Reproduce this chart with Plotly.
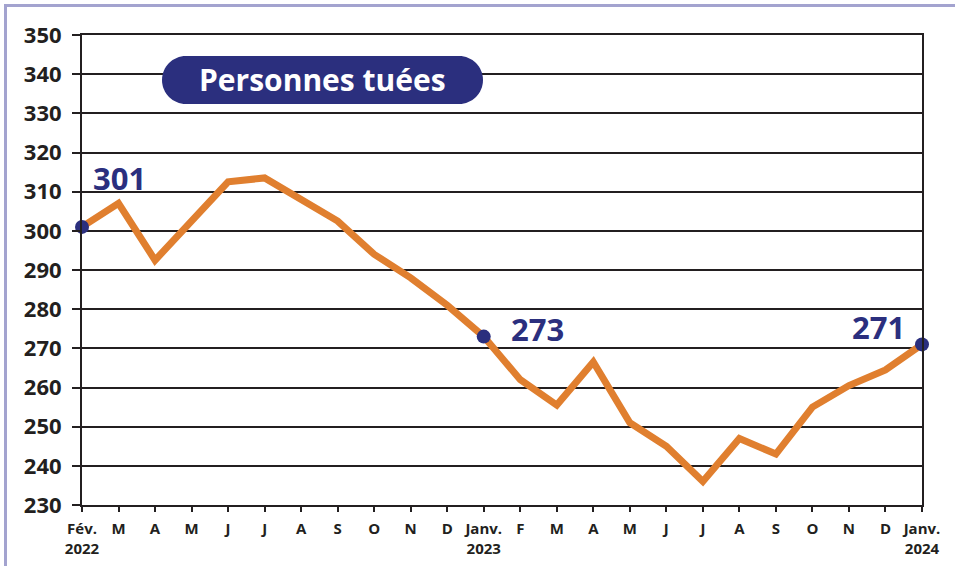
import plotly.graph_objects as go

months = ["Fév.<br>2022", "M", "A", "M", "J", "J", "A", "S", "O", "N", "D",
          "Janv.<br>2023", "F", "M", "A", "M", "J", "J", "A", "S", "O", "N", "D",
          "Janv.<br>2024"]
values = [301, 307, 292.5, 302.5, 312.5, 313.5, 308, 302.5, 294, 288, 281,
          273, 262, 255.5, 266.5, 251, 245, 236, 247, 243, 255, 260.5, 264.5, 271]
highlight_idx = [0, 11, 23]
highlight_labels = ["301", "273", "271"]
y_ticks = list(range(230, 351, 10))
title_text = "Personnes tuées"

ORANGE = "#E07F2F"
NAVY = "#2B2F7E"
DARK = "#231F20"
FONT = "Open Sans"

W, H = 955, 566
ML, MR, MT, MB = 82, 33, 35, 61
PW, PH = W - ML - MR, H - MT - MB


def px_x(px):
    return (px - ML) / PW


def px_y(py):
    return (H - MB - py) / PH


x = list(range(len(values)))

fig = go.Figure()
fig.add_trace(go.Scatter(
    x=x, y=values, mode="lines",
    line=dict(color=ORANGE, width=7),
    hoverinfo="skip", cliponaxis=False,
))
fig.add_trace(go.Scatter(
    x=[x[i] for i in highlight_idx], y=[values[i] for i in highlight_idx],
    mode="markers", marker=dict(color=NAVY, size=14),
    hoverinfo="skip", cliponaxis=False,
))

# value labels
label_pos = [
    dict(xanchor="left", xshift=9, yshift=49),
    dict(xanchor="left", xshift=25, yshift=8),
    dict(xanchor="right", xshift=-15, yshift=17),
]
for i, lab, p in zip(highlight_idx, highlight_labels, label_pos):
    fig.add_annotation(
        x=x[i], y=values[i], text=f"<b>{lab}</b>", showarrow=False,
        font=dict(family=FONT, size=31, color=NAVY),
        xanchor=p["xanchor"], yanchor="middle",
        xshift=p["xshift"], yshift=p["yshift"],
    )

# title badge (rounded pill)
bx0, bx1, by0, by1 = 162, 483, 56, 104
r = (by1 - by0) / 2
k = 0.5523
xl, xr = px_x(bx0), px_x(bx1)
xlc, xrc = px_x(bx0 + r), px_x(bx1 - r)
yt, yb, yc = px_y(by0), px_y(by1), px_y((by0 + by1) / 2)
rx, ry = r / PW, r / PH
path = (
    f"M {xlc},{yt} L {xrc},{yt} "
    f"C {xrc + k*rx},{yt} {xr},{yc + k*ry} {xr},{yc} "
    f"C {xr},{yc - k*ry} {xrc + k*rx},{yb} {xrc},{yb} "
    f"L {xlc},{yb} "
    f"C {xlc - k*rx},{yb} {xl},{yc - k*ry} {xl},{yc} "
    f"C {xl},{yc + k*ry} {xlc - k*rx},{yt} {xlc},{yt} Z"
)
fig.add_shape(type="path", xref="paper", yref="paper", path=path,
              fillcolor=NAVY, line=dict(width=0), layer="above")
fig.add_annotation(
    xref="paper", yref="paper", x=px_x((bx0 + bx1) / 2), y=px_y(80),
    text=f"<b>{title_text}</b>", showarrow=False,
    font=dict(family=FONT, size=30, color="white"),
    xanchor="center", yanchor="middle",
)

# outer frame
fig.add_shape(
    type="path", xref="paper", yref="paper",
    path=f"M {px_x(5.5)},{px_y(600)} L {px_x(5.5)},{px_y(5.5)} L {px_x(1000)},{px_y(5.5)}",
    line=dict(color="#A3A3CF", width=3), layer="below",
)

fig.update_xaxes(
    range=[0, 23], tickvals=x, ticktext=[f"<b>{m}</b>" for m in months],
    showgrid=False, showline=True, linecolor=DARK, linewidth=2, mirror=True,
    ticks="outside", ticklen=5, tickwidth=2, tickcolor=DARK,
    tickfont=dict(family=FONT, size=15, color=DARK), zeroline=False,
    ticklabelstandoff=4, automargin=False,
)
fig.update_yaxes(
    range=[230, 350], tickvals=y_ticks, ticktext=[f"<b>{v}</b>" for v in y_ticks],
    showgrid=True, gridcolor=DARK, gridwidth=2,
    showline=True, linecolor=DARK, linewidth=2, mirror=True,
    ticks="outside", ticklen=8, tickwidth=2, tickcolor=DARK,
    tickfont=dict(family=FONT, size=22, color=DARK), zeroline=False,
    ticklabelstandoff=6, automargin=False,
)
fig.update_layout(
    width=W, height=H,
    margin=dict(l=ML, r=MR, t=MT, b=MB, autoexpand=False),
    plot_bgcolor="white", paper_bgcolor="white",
    showlegend=False,
)
fig.write_html("out.html",
               config={"displayModeBar": False, "staticPlot": True},
               post_script="document.body.style.margin='0';document.body.style.overflow='hidden';")
